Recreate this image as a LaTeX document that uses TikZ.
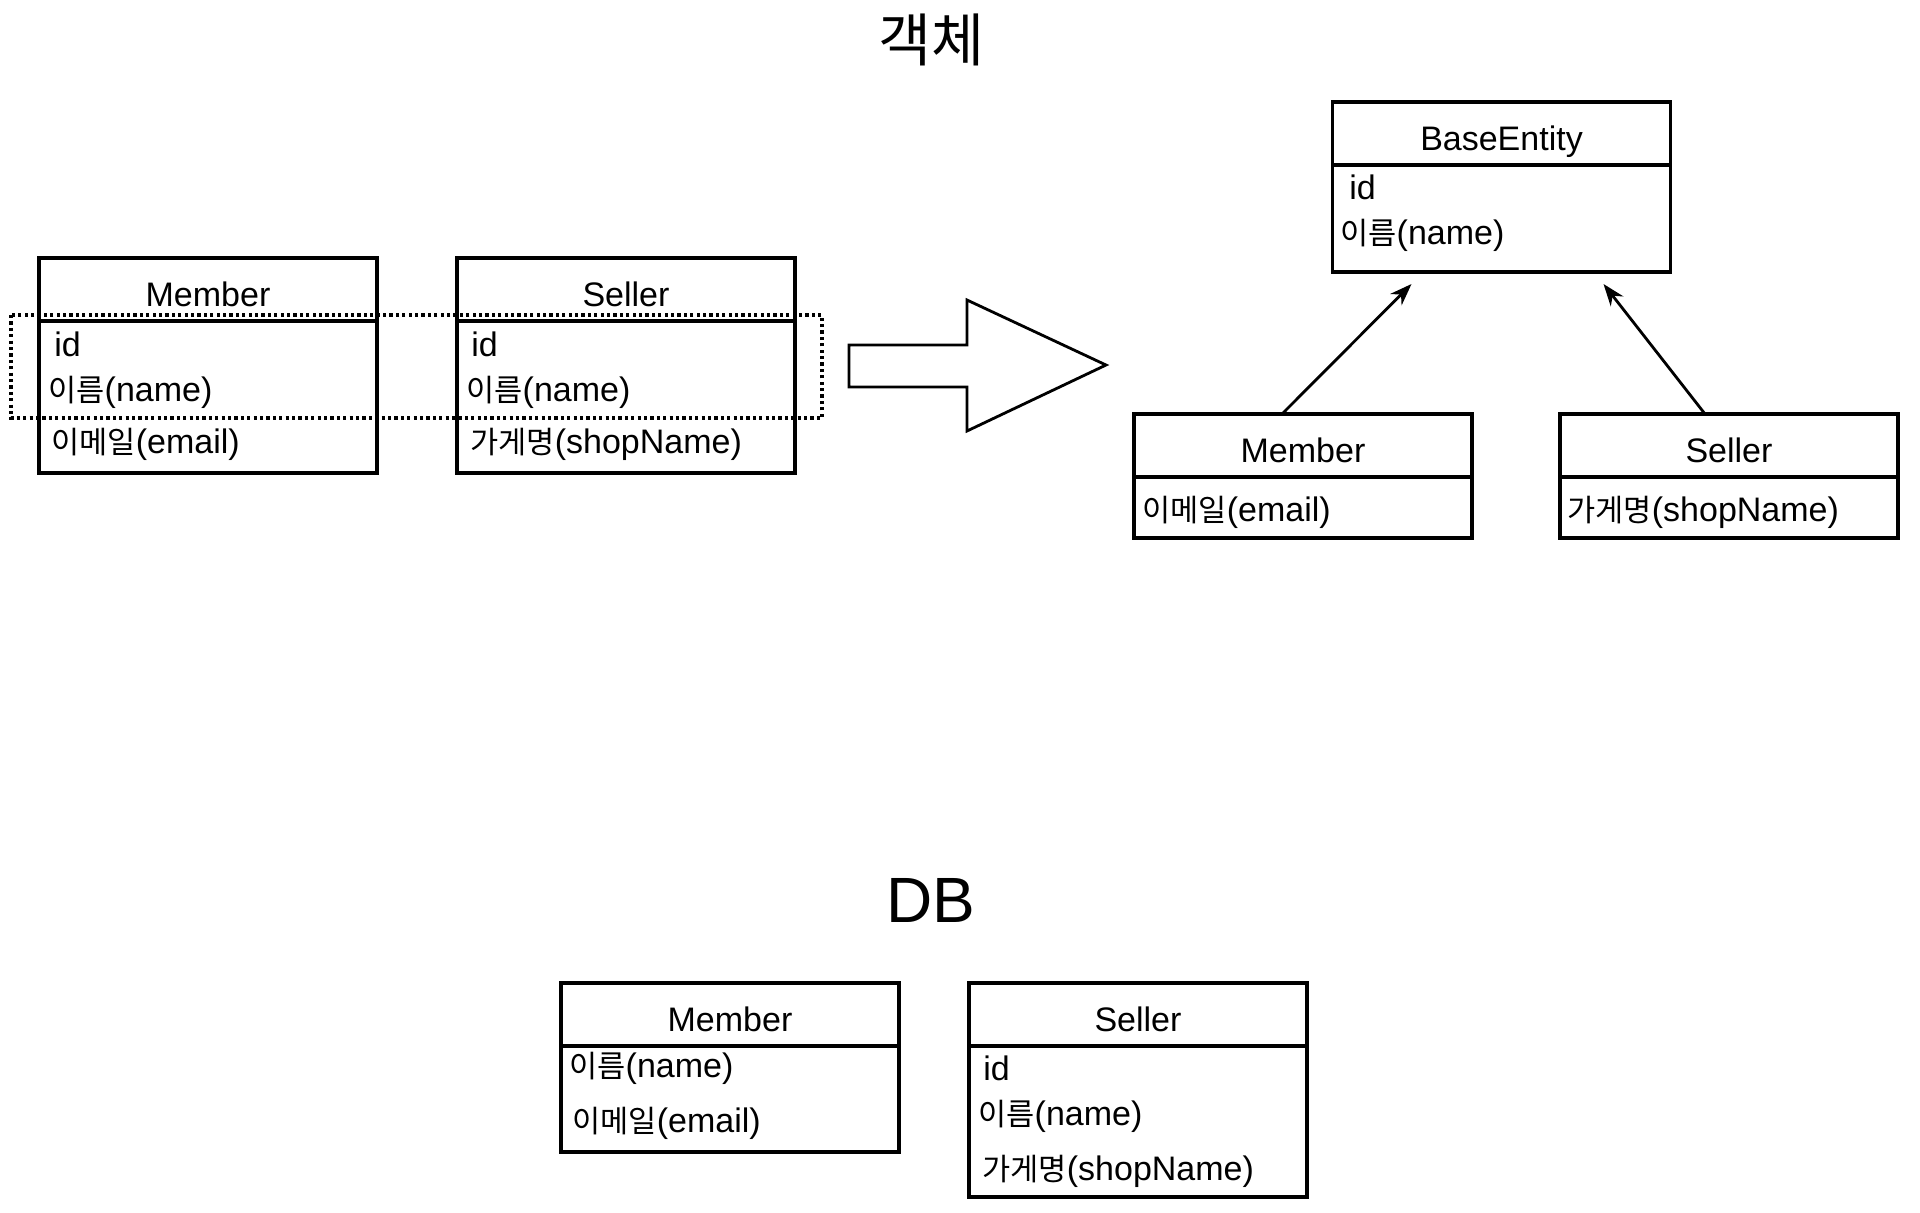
\documentclass[tikz,border=0pt]{standalone}
\usepackage{fontspec}
\setmainfont{Liberation Sans}
\newfontfamily\krfont[Scale=0.9]{Noto Sans CJK KR}
\newcommand{\ko}[1]{{\krfont #1}}
\usetikzlibrary{arrows.meta, positioning, calc}
\tikzset{
  classhead/.style = {draw, line width=1.6pt, minimum width=169pt, minimum height=31.5pt,
                      inner sep=0pt, outer sep=0pt, text height=17pt, text depth=0pt,
                      font=\fontsize{17}{20}\selectfont},
  classbody/.style = {draw, line width=1.6pt, minimum width=169pt, inner sep=0pt,
                      outer sep=0pt, below=0pt of #1},
  attr/.style      = {anchor=west, inner sep=0pt, font=\fontsize{17}{20}\selectfont},
  title/.style     = {font=\fontsize{32}{36}\selectfont},
  inherit/.style   = {-{Stealth[length=11pt, width=8pt]}, line width=1.4pt},
  dotbox/.style    = {line width=1.6pt, dash pattern=on 1.6pt off 1.6pt},
  bigarrow/.style  = {line width=1.4pt, line join=miter},
}

\begin{document}
\begin{tikzpicture}[x=0.5pt,y=-0.5pt]
  \useasboundingbox (0,0) rectangle (1920,1212);
  % titles
  \node[title] (objTitle) at (931,40) {\krfont 객체};
  \node[title] (dbTitle) at (931,900) {DB};

  % object side, before: two separate classes
  \node[classhead] (objMemberHead) at (208,289.5) {Member};
  \node[classbody=objMemberHead, minimum height=76pt] (objMemberBody) {};
  \node[attr] (objMemberId) at (54,344) {id};
  \node[attr] (objMemberName) at (48,392) {\ko{이름}(name)};
  \node[attr] (objMemberEmail) at (51,444) {\ko{이메일}(email)};

  \node[classhead] (objSellerHead) at (626,289.5) {Seller};
  \node[classbody=objSellerHead, minimum height=76pt] (objSellerBody) {};
  \node[attr] (objSellerId) at (471,344) {id};
  \node[attr] (objSellerName) at (466,392) {\ko{이름}(name)};
  \node[attr] (objSellerShop) at (470,444) {\ko{가게명}(shopName)};

  % shared columns
  \draw[dotbox] (11,315) rectangle (822,418);

  % big arrow
  \draw[bigarrow] (849,345) -- (967,345) -- (967,300) -- (1106,365)
    -- (967,431) -- (967,387) -- (849,387) -- cycle;

  % object side, after: inheritance
  \node[classhead] (baseEntityHead) at (1501.5,133.5) {BaseEntity};
  \node[classbody=baseEntityHead, minimum height=53.5pt] (baseEntityBody) {};
  \node[attr] (baseEntityId) at (1349,187) {id};
  \node[attr] (baseEntityName) at (1340,235) {\ko{이름}(name)};

  \node[classhead] (subMemberHead) at (1303,445.5) {Member};
  \node[classbody=subMemberHead, minimum height=30.5pt] (subMemberBody) {};
  \node[attr] (subMemberEmail) at (1142,512) {\ko{이메일}(email)};

  \node[classhead] (subSellerHead) at (1729,445.5) {Seller};
  \node[classbody=subSellerHead, minimum height=30.5pt] (subSellerBody) {};
  \node[attr] (subSellerShop) at (1567,512) {\ko{가게명}(shopName)};

  \draw[inherit] ($(subMemberHead.north)+(-21,0)$) -- ($(baseEntityBody.south)+(-90,12)$);
  \draw[inherit] ($(subSellerHead.north)+(-24,0)$) -- ($(baseEntityBody.south)+(102,12)$);

  % DB side
  \node[classhead] (dbMemberHead) at (730,1014.5) {Member};
  \node[classbody=dbMemberHead, minimum height=53pt] (dbMemberBody) {};
  \node[attr] (dbMemberName) at (569,1068) {\ko{이름}(name)};
  \node[attr] (dbMemberEmail) at (572,1123) {\ko{이메일}(email)};

  \node[classhead] (dbSellerHead) at (1138,1014.5) {Seller};
  \node[classbody=dbSellerHead, minimum height=75.5pt] (dbSellerBody) {};
  \node[attr] (dbSellerId) at (983,1068) {id};
  \node[attr] (dbSellerName) at (978,1116) {\ko{이름}(name)};
  \node[attr] (dbSellerShop) at (982,1171) {\ko{가게명}(shopName)};
\end{tikzpicture}
\end{document}
